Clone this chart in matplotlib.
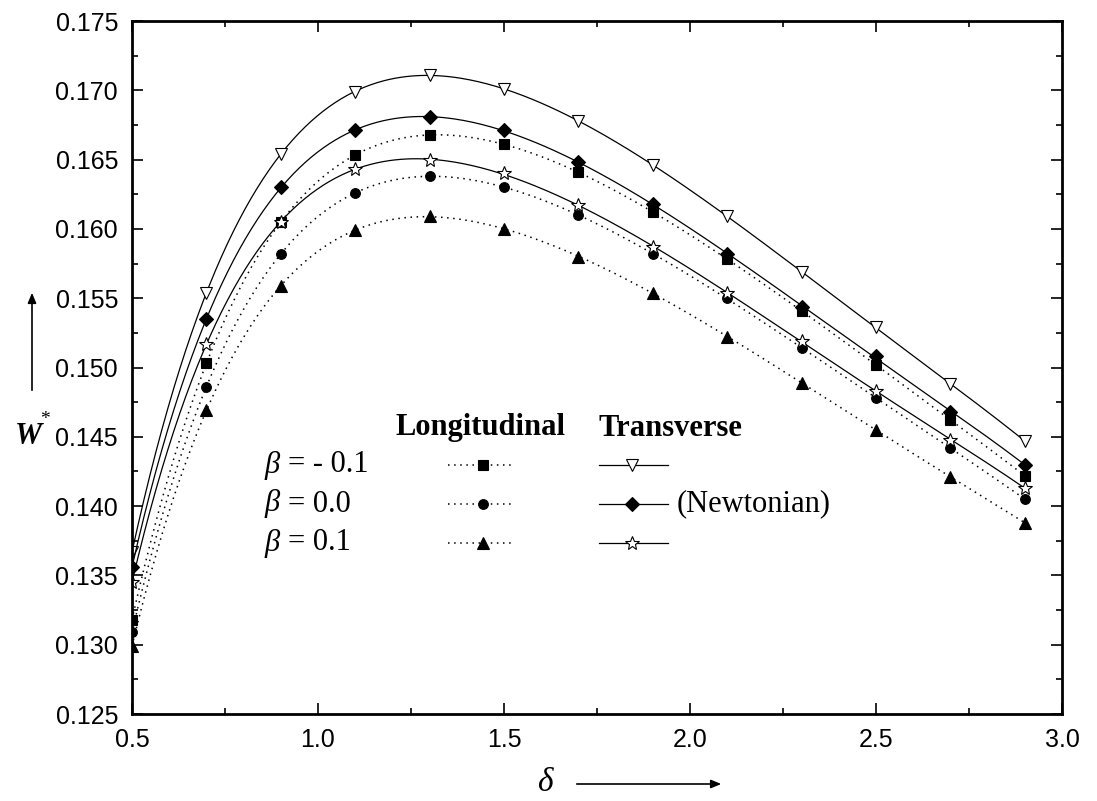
import numpy as np
import matplotlib
matplotlib.use("Agg")
import matplotlib.pyplot as plt
from matplotlib.patches import FancyArrowPatch
from matplotlib.ticker import MultipleLocator, FormatStrFormatter

# delta values where the markers sit
delta = [0.5, 0.7, 0.9, 1.1, 1.3, 1.5, 1.7, 1.9, 2.1, 2.3, 2.5, 2.7, 2.9]

# Longitudinal roughness (dotted)
long_m01 = [0.1318, 0.1503, 0.1605, 0.1653, 0.1668, 0.1661, 0.1641, 0.1612, 0.1578, 0.1541, 0.1502, 0.1462, 0.1422]
long_00 = [0.1309, 0.1486, 0.1582, 0.1626, 0.1638, 0.1630, 0.1610, 0.1582, 0.1550, 0.1514, 0.1478, 0.1442, 0.1405]
long_p01 = [0.1299, 0.1469, 0.1559, 0.1599, 0.1609, 0.1600, 0.1580, 0.1554, 0.1522, 0.1489, 0.1455, 0.1421, 0.1388]

# Transverse roughness (solid)
trans_m01 = [0.1367, 0.1554, 0.1654, 0.1699, 0.1711, 0.1701, 0.1678, 0.1646, 0.1609, 0.1569, 0.1529, 0.1488, 0.1447]
trans_00 = [0.1356, 0.1535, 0.1630, 0.1671, 0.1681, 0.1671, 0.1648, 0.1618, 0.1582, 0.1544, 0.1508, 0.1468, 0.1430]
trans_p01 = [0.1345, 0.1517, 0.1605, 0.1643, 0.1650, 0.1640, 0.1617, 0.1587, 0.1554, 0.1519, 0.1483, 0.1448, 0.1413]

beta_labels = ["- 0.1", "0.0", "0.1"]

W, H = 1097, 801
fig = plt.figure(figsize=(W / 100, H / 100), dpi=100)
L, R, T, B = 132, 1062, 21, 714
ax = fig.add_axes([L / W, (H - B) / H, (R - L) / W, (B - T) / H])

dotted = (0, (1, 3))
series = [
    (long_m01, dotted, "s", "k", 6.5),
    (long_00, dotted, "o", "k", 7),
    (long_p01, dotted, "^", "k", 8),
    (trans_m01, "-", "v", "w", 9),
    (trans_00, "-", "D", "k", 7.5),
    (trans_p01, "-", "*", "w", 10.5),
]

xs = np.linspace(0.5, 2.9, 300)
for vals, ls, mk, fc, ms in series:
    # smooth fitted curve through the points, like the original
    coef = np.polyfit(delta, vals, 6)
    ax.plot(xs, np.polyval(coef, xs), color="k", ls=ls, lw=0.9 if ls == "-" else 1.1)
    ax.plot(delta, vals, ls="none", marker=mk, ms=ms, mfc=fc, mec="k", mew=0.8)

ax.set_xlim(0.5, 3.0)
ax.set_ylim(0.125, 0.175)
ax.xaxis.set_major_locator(MultipleLocator(0.5))
ax.xaxis.set_minor_locator(MultipleLocator(0.25))
ax.yaxis.set_major_locator(MultipleLocator(0.005))
ax.yaxis.set_minor_locator(MultipleLocator(0.0025))
ax.xaxis.set_major_formatter(FormatStrFormatter("%.1f"))
ax.yaxis.set_major_formatter(FormatStrFormatter("%.3f"))
ax.tick_params(which="both", direction="in", top=True, right=True, width=1.2)
ax.tick_params(which="major", length=8, labelsize=18, pad=10)
ax.tick_params(which="minor", length=4)
for lab in ax.get_xticklabels() + ax.get_yticklabels():
    lab.set_fontfamily("Liberation Sans")
for s in ax.spines.values():
    s.set_linewidth(2)


def ap(px, py):
    return ((px - L) / (R - L), (B - py) / (B - T))


serif = "Liberation Serif"
tr = ax.transAxes
fs = 22
ax.text(*ap(481, 428), "Longitudinal", transform=tr, ha="center", va="center",
        family=serif, weight="bold", fontsize=fs)
ax.text(*ap(670, 428), "Transverse", transform=tr, ha="center", va="center",
        family=serif, weight="bold", fontsize=fs)

rows_y = [465, 504, 543]
for i, (y, lab) in enumerate(zip(rows_y, beta_labels)):
    ax.text(*ap(264, y), "\u03b2", transform=tr, ha="left", va="center",
            family=serif, style="italic", fontsize=fs)
    ax.text(*ap(288, y), "= " + lab, transform=tr, ha="left", va="center",
            family=serif, fontsize=fs)
    # longitudinal sample
    _, ls, mk, fc, ms = series[i]
    x0, yy = ap(448, y)
    x1, _ = ap(515, y)
    xm, _ = ap(483, y)
    ax.plot([x0, x1], [yy, yy], transform=tr, color="k", ls=dotted, lw=1.1, clip_on=False)
    ax.plot([xm], [yy], transform=tr, marker=mk, ms=ms, mfc=fc, mec="k", mew=0.8,
            ls="none", clip_on=False, zorder=5)
    # transverse sample
    _, ls, mk, fc, ms = series[i + 3]
    x0, _ = ap(599, y)
    x1, _ = ap(668, y)
    xm, _ = ap(632, y)
    ax.plot([x0, x1], [yy, yy], transform=tr, color="k", ls="-", lw=0.9, clip_on=False)
    ax.plot([xm], [yy], transform=tr, marker=mk, ms=ms, mfc=fc, mec="k", mew=0.8,
            ls="none", clip_on=False, zorder=5)

ax.text(*ap(677, 504), "(Newtonian)", transform=tr, ha="left", va="center",
        family=serif, fontsize=fs)

# axis labels with arrows
fig.text(28 / W, 1 - 436 / H, "W", family=serif, style="italic", weight="bold",
         fontsize=22, ha="center", va="center")
fig.text(45 / W, 1 - 420 / H, "*", family=serif, fontsize=14, ha="center", va="center")
fig.patches.append(FancyArrowPatch(
    (32 / W, 1 - 393 / H), (32 / W, 1 - 290 / H), transform=fig.transFigure,
    arrowstyle="-|>,head_length=6,head_width=2.5", color="k", lw=1.2))

fig.text(545 / W, 1 - 783 / H, "\u03b4", family=serif, style="italic",
         fontsize=24, ha="center", va="center")
fig.patches.append(FancyArrowPatch(
    (574 / W, 1 - 784 / H), (724 / W, 1 - 784 / H), transform=fig.transFigure,
    arrowstyle="-|>,head_length=6,head_width=2.5", color="k", lw=1.2))

fig.savefig("out.png", dpi=100)
